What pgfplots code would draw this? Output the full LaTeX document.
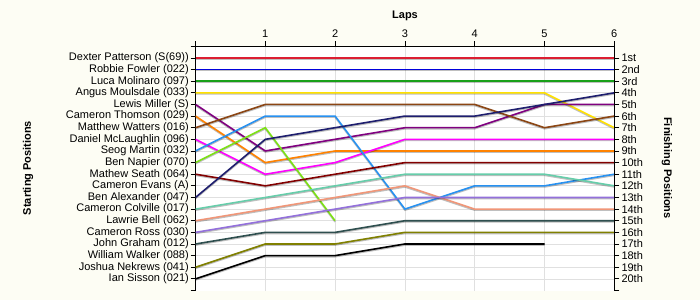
\documentclass[border=0pt]{standalone}
\usepackage{fontspec}
\setmainfont{Liberation Sans}
\usepackage{pgfplots}
\pgfplotsset{compat=1.18}
\definecolor{bgc}{RGB}{253,253,244}
\definecolor{cRed}{RGB}{220,30,50}
\definecolor{cBlue}{RGB}{0,0,220}
\definecolor{cGreen}{RGB}{25,160,25}
\definecolor{cYellow}{RGB}{255,225,0}
\definecolor{cPurple}{RGB}{128,0,128}
\definecolor{cOrange}{RGB}{255,130,0}
\definecolor{cBrown}{RGB}{139,69,19}
\definecolor{cMagenta}{RGB}{255,0,255}
\definecolor{cLBlue}{RGB}{40,145,240}
\definecolor{cLime}{RGB}{124,225,20}
\definecolor{cDRed}{RGB}{130,0,0}
\definecolor{cNavy}{RGB}{30,30,110}
\definecolor{cTeal}{RGB}{102,205,170}
\definecolor{cSalmon}{RGB}{240,150,120}
\definecolor{cLav}{RGB}{147,112,219}
\definecolor{cSlate}{RGB}{47,79,79}
\definecolor{cOlive}{RGB}{128,128,0}
\newcommand\tf{\fontsize{11bp}{12bp}\selectfont}
\begin{document}
\begin{tikzpicture}
\path[use as bounding box, fill=bgc] (0,0) rectangle (700bp,300bp);
\begin{axis}[
 at={(195.5bp,9.5bp)}, anchor=south west,
 scale only axis, width=418.8bp, height=244.2bp,
 xmin=0, xmax=6, ymin=0, ymax=21, y dir=reverse,
 axis x line*=top, axis y line*=left,
 axis line style={black, line width=0.9pt},
 axis background/.style={fill=white},
 xtick={1,...,6}, xticklabels={1,2,3,4,5,6},
 ytick={1,...,20},
 yticklabels={Dexter Patterson (S(69)),Robbie Fowler (022),Luca Molinaro (097),Angus Moulsdale (033),Lewis Miller (S),Cameron Thomson (029),Matthew Watters (016),Daniel McLaughlin (096),Seog Martin (032),Ben Napier (070),Mathew Seath (064),Cameron Evans (A),Ben Alexander (047),Cameron Colville (017),Lawrie Bell (062),Cameron Ross (030),John Graham (012),William Walker (088),Joshua Nekrews (041),Ian Sisson (021)},
 extra x ticks={0}, extra x tick labels={},
 extra y ticks={0,21}, extra y tick labels={},
 extra tick style={grid=none},
 grid=major, major grid style={black!12, line width=0.7pt},
 tick align=outside, major tick length=5bp,
 tick style={black, line width=0.8pt},
 tick label style={font=\tf},
 yticklabel style={inner xsep=1.5bp},
 every axis plot/.append style={line width=1.6pt, mark=none,
   preaction={draw=black, opacity=0.25, transform canvas={yshift=-1.1bp}}},
]
\addplot[cRed] coordinates {(0,1)(1,1)(2,1)(3,1)(4,1)(5,1)(6,1)};
\addplot[cBlue] coordinates {(0,2)(1,2)(2,2)(3,2)(4,2)(5,2)(6,2)};
\addplot[cGreen] coordinates {(0,3)(1,3)(2,3)(3,3)(4,3)(5,3)(6,3)};
\addplot[cYellow] coordinates {(0,4)(1,4)(2,4)(3,4)(4,4)(5,4)(6,7)};
\addplot[cPurple] coordinates {(0,5)(1,9)(2,8)(3,7)(4,7)(5,5)(6,5)};
\addplot[cOrange] coordinates {(0,6)(1,10)(2,9)(3,9)(4,9)(5,9)(6,9)};
\addplot[cBrown] coordinates {(0,7)(1,5)(2,5)(3,5)(4,5)(5,7)(6,6)};
\addplot[cMagenta] coordinates {(0,8)(1,11)(2,10)(3,8)(4,8)(5,8)(6,8)};
\addplot[cLBlue] coordinates {(0,9)(1,6)(2,6)(3,14)(4,12)(5,12)(6,11)};
\addplot[cLime] coordinates {(0,10)(1,7)(2,15)};
\addplot[cDRed] coordinates {(0,11)(1,12)(2,11)(3,10)(4,10)(5,10)(6,10)};
\addplot[cNavy] coordinates {(0,13)(1,8)(2,7)(3,6)(4,6)(5,5)(6,4)};
\addplot[cTeal] coordinates {(0,14)(1,13)(2,12)(3,11)(4,11)(5,11)(6,12)};
\addplot[cSalmon] coordinates {(0,15)(1,14)(2,13)(3,12)(4,14)(5,14)(6,14)};
\addplot[cLav] coordinates {(0,16)(1,15)(2,14)(3,13)(4,13)(5,13)(6,13)};
\addplot[cSlate] coordinates {(0,17)(1,16)(2,16)(3,15)(4,15)(5,15)(6,15)};
\addplot[cOlive] coordinates {(0,19)(1,17)(2,17)(3,16)(4,16)(5,16)(6,16)};
\addplot[black] coordinates {(0,20)(1,18)(2,18)(3,17)(4,17)(5,17)};
\end{axis}
\begin{axis}[
 at={(195.5bp,9.5bp)}, anchor=south west,
 scale only axis, width=418.8bp, height=244.2bp,
 xmin=0, xmax=6, ymin=0, ymax=21, y dir=reverse,
 axis x line=none, axis y line*=right,
 axis line style={black, line width=0.9pt},
 ytick={1,...,20},
 yticklabels={1st,2nd,3rd,4th,5th,6th,7th,8th,9th,10th,11th,12th,13th,14th,15th,16th,17th,18th,19th,20th},
 extra y ticks={21}, extra y tick labels={},
 tick align=outside, major tick length=5bp,
 tick style={black, line width=0.8pt},
 tick label style={font=\tf},
 yticklabel style={inner xsep=2bp},
]
\end{axis}
\node[font=\bfseries\tf] at (405bp,284bp) {Laps};
\node[font=\bfseries\tf, rotate=90] at (28bp,132bp) {Starting Positions};
\node[font=\bfseries\tf, rotate=-90] at (667bp,132bp) {Finishing Positions};
\end{tikzpicture}
\end{document}
